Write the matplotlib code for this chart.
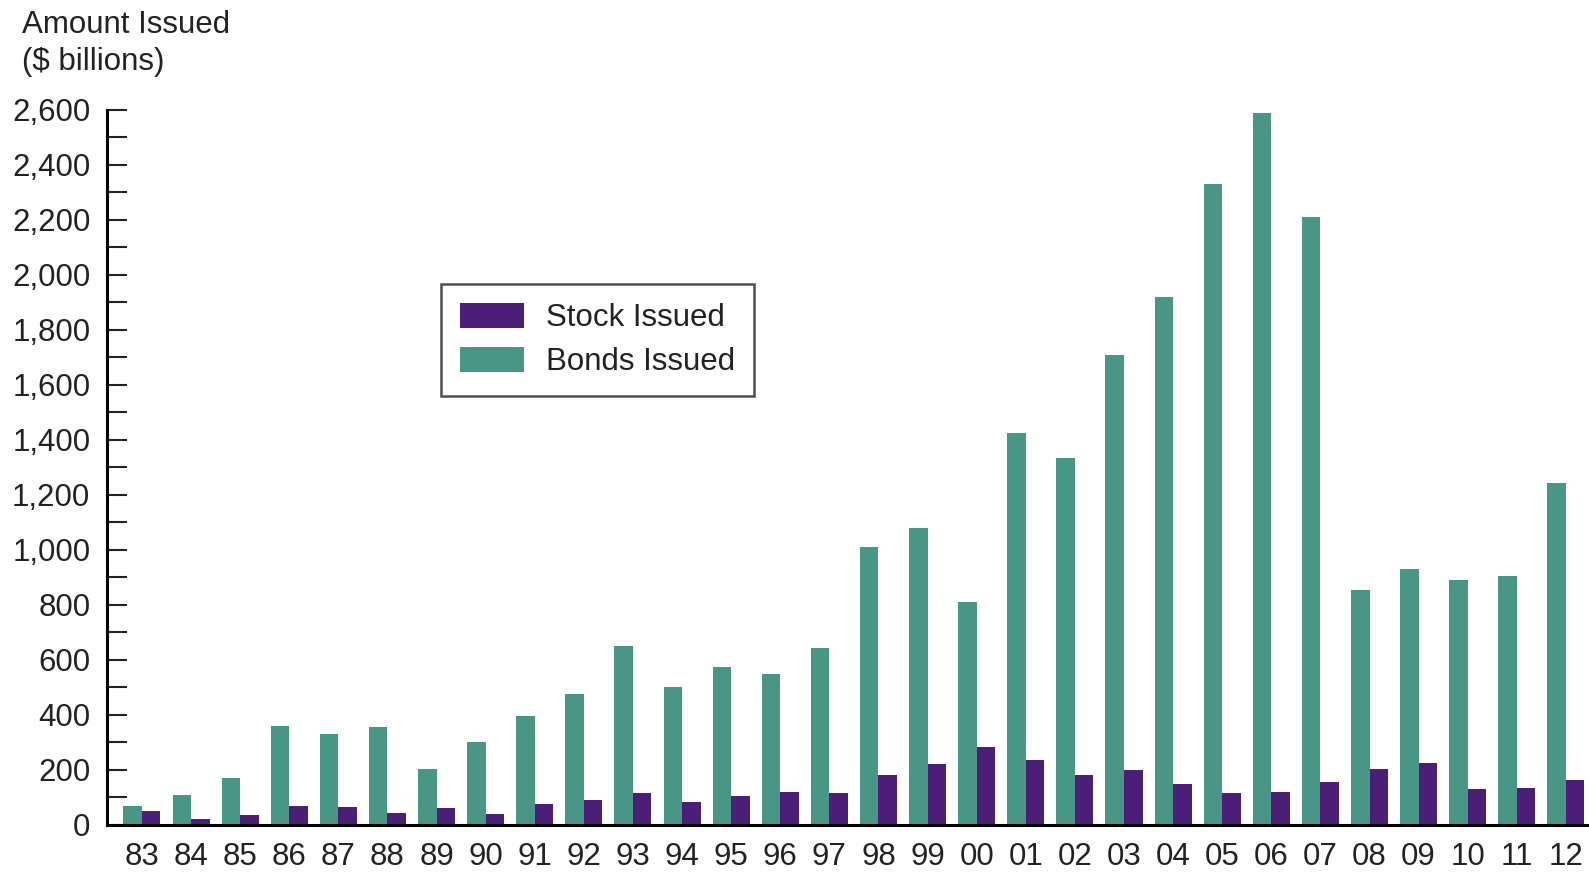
import matplotlib.pyplot as plt
import numpy as np

plt.rcParams['font.family'] = ['Liberation Sans', 'DejaVu Sans']

# years shown as two digit labels
years = ['83', '84', '85', '86', '87', '88', '89', '90', '91', '92', '93', '94', '95', '96', '97',
         '98', '99', '00', '01', '02', '03', '04', '05', '06', '07', '08', '09', '10', '11', '12']

# $ billions
bonds = [70, 110, 170, 360, 330, 355, 205, 300, 395, 475, 650, 500, 575, 550, 645,
         1010, 1080, 810, 1425, 1335, 1710, 1920, 2330, 2590, 2210, 855, 930, 890, 905, 1245]
stocks = [50, 20, 35, 70, 65, 45, 60, 40, 75, 90, 115, 85, 105, 120, 115,
          180, 220, 285, 235, 180, 200, 150, 115, 120, 155, 205, 225, 130, 135, 165]

yticks = np.arange(0, 2601, 200)
ylabels = ['{:,}'.format(v) for v in yticks]

teal = '#4a9686'
purple = '#4b1f78'
fs = 22.5

fig = plt.figure(figsize=(15.89, 8.73), dpi=100)
ax = fig.add_axes([0.0673, 0.055, 0.9327, 0.819])

x = np.arange(len(years))
w = 0.377
ax.bar(x - w / 2, bonds, w, color=teal, label='Bonds Issued')
ax.bar(x + w / 2, stocks, w, color=purple, label='Stock Issued')

ax.set_xlim(-0.713, len(years) - 1 + 0.47)
ax.set_ylim(0, 2600)

ax.spines['top'].set_visible(False)
ax.spines['right'].set_visible(False)
ax.spines['left'].set_linewidth(2.2)
ax.spines['bottom'].set_linewidth(2.2)

ax.set_yticks(yticks)
ax.set_yticklabels(ylabels)
ax.set_yticks(np.arange(100, 2600, 200), minor=True)
ax.tick_params(axis='y', which='both', direction='in', length=14.5, width=1.5,
               labelsize=fs, pad=12, colors='#222222')
ax.set_xticks(x)
ax.set_xticklabels(years)
ax.tick_params(axis='x', length=0, labelsize=fs, pad=12, colors='#222222')

fig.text(0.014, 0.989, 'Amount Issued\n($ billions)', fontsize=fs, va='top', ha='left',
         color='#222222', linespacing=1.33)

handles, labels = ax.get_legend_handles_labels()
leg = fig.legend(handles[::-1], labels[::-1], loc='upper left',
                 bbox_to_anchor=(0.2775, 0.6747), fontsize=fs, frameon=True,
                 fancybox=False, handlelength=2.05, handleheight=0.85,
                 labelspacing=0.45, borderpad=0.6, handletextpad=0.7, borderaxespad=0)
leg.get_frame().set_edgecolor('#222222')
leg.get_frame().set_linewidth(1.8)
for t in leg.get_texts():
    t.set_color('#222222')

fig.savefig('out.png', dpi=100)
